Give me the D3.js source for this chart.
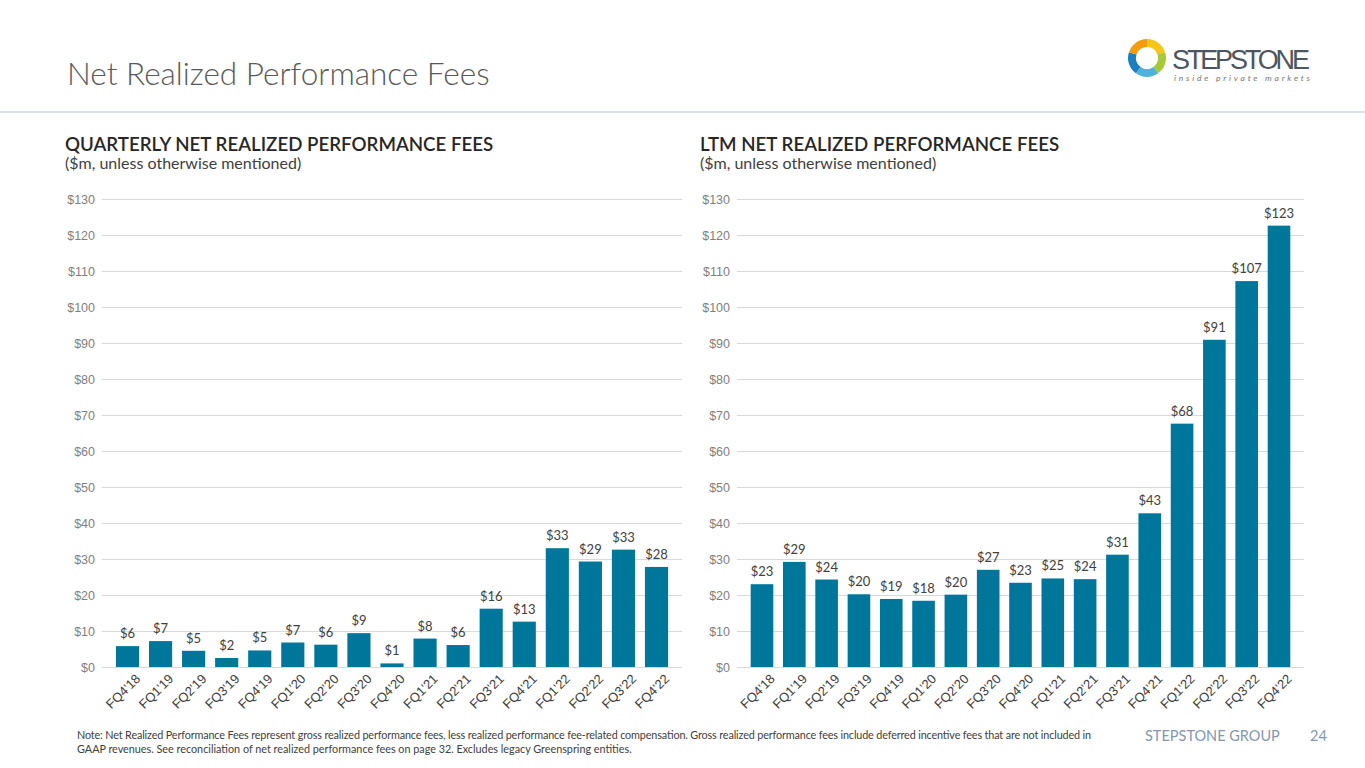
<!DOCTYPE html>
<html><head><meta charset="utf-8">
<script src="https://cdn.jsdelivr.net/npm/d3@7"></script>
<style>body{margin:0;background:#fff;font-family:Lato,"Open Sans",sans-serif}</style>
</head><body><div id="chart"></div>
<script>
// chart data
const quarters=["FQ4'18","FQ1'19","FQ2'19","FQ3'19","FQ4'19","FQ1'20","FQ2'20","FQ3'20","FQ4'20","FQ1'21","FQ2'21","FQ3'21","FQ4'21","FQ1'22","FQ2'22","FQ3'22","FQ4'22"];
const quarterlyFees=[5.8,7.2,4.5,2.5,4.6,6.8,6.2,9.4,1.0,7.9,6.1,16.2,12.6,33.0,29.3,32.6,27.8];
const quarterlyLabels=["$6","$7","$5","$2","$5","$7","$6","$9","$1","$8","$6","$16","$13","$33","$29","$33","$28"];
const ltmFees=[23.0,29.2,24.3,20.2,18.9,18.4,20.1,27.0,23.4,24.6,24.4,31.2,42.7,67.6,90.9,107.2,122.6];
const ltmLabels=["$23","$29","$24","$20","$19","$18","$20","$27","$23","$25","$24","$31","$43","$68","$91","$107","$123"];
const yTicks=[0,10,20,30,40,50,60,70,80,90,100,110,120,130];

const W=1365,H=768;
const svg=d3.select("#chart").append("svg").attr("width",W).attr("height",H);

//header
svg.append("text").attr("x",67).attr("y",85).attr("font-size",31.5).attr("fill","#595959").attr("font-weight",300).text("Net Realized Performance Fees");
svg.append("line").attr("x1",0).attr("x2",W).attr("y1",112).attr("y2",112).attr("stroke","#b4c3d6").attr("stroke-width",1.2);

//logo
const logo=svg.append("g").attr("transform","translate(1147,58)");
const arc=d3.arc().innerRadius(11).outerRadius(19);
const logoCols=["#f5c518","#a6c93a","#4fb3d9","#1d7fbf","#f39c12"];
logoCols.forEach((c,i)=>{
  logo.append("path").attr("d",arc({startAngle:i*2*Math.PI/5,endAngle:(i+1)*2*Math.PI/5})).attr("fill",c);
});
svg.append("text").attr("x",1172).attr("y",69).attr("font-size",27).attr("fill","#4d5560").attr("font-family","'Liberation Sans',sans-serif").attr("textLength",138).text("STEPSTONE");
svg.append("text").attr("x",1174).attr("y",81).attr("font-size",8.5).attr("font-style","italic").attr("fill","#777").attr("textLength",136).text("inside private markets");

function drawChart(title,values,labels,x0,x1){
  svg.append("text").attr("x",x0-41).attr("y",151).attr("font-size",18.7).attr("fill","#262626").attr("font-weight","600").text(title);
  svg.append("text").attr("x",x0-41).attr("y",169).attr("font-size",16).attr("fill","#404040").text("($m, unless otherwise mentioned)");

  const x=d3.scaleBand().domain(quarters).range([x0,x1]).padding(0.3);
  const y=d3.scaleLinear().domain([0,130]).range([667,199]);
  const g=svg.append("g");

  const ax=g.append("g").attr("transform","translate("+(x0-4)+",0)")
    .call(d3.axisLeft(y).tickValues(yTicks).tickFormat(d=>"$"+d));
  ax.select(".domain").remove();
  ax.selectAll(".tick line").attr("stroke","#d9d9d9").attr("x1",0).attr("x2",x1-x0+8);
  ax.selectAll(".tick text").attr("x",-7).attr("fill","#7f7f7f").attr("font-size",12.5);

  g.selectAll("rect.bar").data(values).enter().append("rect")
    .attr("x",(d,i)=>x(quarters[i])).attr("width",x.bandwidth())
    .attr("y",d=>y(d)).attr("height",d=>y(0)-y(d)).attr("fill","#00779a");

  g.selectAll("text.lbl").data(labels).enter().append("text")
    .attr("x",(d,i)=>x(quarters[i])+x.bandwidth()/2).attr("y",(d,i)=>y(values[i])-8)
    .attr("text-anchor","middle").attr("font-size",13).attr("fill","#404040").text(d=>d);

  const xa=g.append("g").attr("transform","translate(0,667)").call(d3.axisBottom(x).tickSize(0));
  xa.select(".domain").attr("stroke","#d9d9d9");
  xa.selectAll("text").attr("font-size",13).attr("fill","#404040").attr("text-anchor","end")
    .attr("transform","translate(5,4) rotate(-45)");
}
drawChart("QUARTERLY NET REALIZED PERFORMANCE FEES",quarterlyFees,quarterlyLabels,106,678);
drawChart("LTM NET REALIZED PERFORMANCE FEES",ltmFees,ltmLabels,741,1300);

//footer
svg.append("text").attr("x",77).attr("y",739).attr("font-size",10.8).attr("fill","#404040").attr("textLength",1014)
  .text("Note: Net Realized Performance Fees represent gross realized performance fees, less realized performance fee-related compensation. Gross realized performance fees include deferred incentive fees that are not included in");
svg.append("text").attr("x",77).attr("y",753).attr("font-size",10.8).attr("fill","#404040")
  .text("GAAP revenues. See reconciliation of net realized performance fees on page 32. Excludes legacy Greenspring entities.");
svg.append("text").attr("x",1145).attr("y",741).attr("font-size",14.5).attr("fill","#8497b0").text("STEPSTONE GROUP");
svg.append("text").attr("x",1310).attr("y",741).attr("font-size",14.5).attr("fill","#8497b0").text("24");
</script></body></html>
